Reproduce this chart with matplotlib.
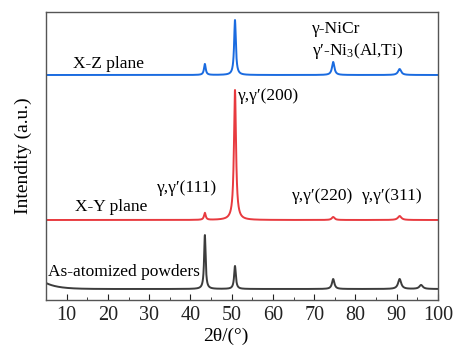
import numpy as np
import matplotlib
matplotlib.use("Agg")
import matplotlib.pyplot as plt

# --- data ---
# peak positions (2theta), heights above baseline, half-widths (deg)
xz_peaks = [43.5, 50.8, 74.6, 90.7]
xz_heights = [11, 55, 13, 6]
xz_widths = [0.25, 0.25, 0.35, 0.45]
xz_base = 225

xy_peaks = [43.5, 50.8, 74.6, 90.7]
xy_heights = [7, 130, 3, 4]
xy_widths = [0.25, 0.3, 0.4, 0.5]
xy_base = 80

pw_peaks = [43.5, 50.8, 74.6, 90.7, 95.9]
pw_heights = [54, 23, 10, 10, 4]
pw_widths = [0.22, 0.25, 0.35, 0.45, 0.5]
pw_base = 11
pw_tail = 6  # low-angle background rise

series_names = ["X-Z plane", "X-Y plane", "As-atomized powders"]
xticks = [10, 20, 30, 40, 50, 60, 70, 80, 90, 100]

x = np.linspace(5, 100, 4000)

def profile(peaks, heights, widths):
    y = np.zeros_like(x)
    for p, h, w in zip(peaks, heights, widths):
        y += h / (1 + ((x - p) / w) ** 2)
    return y

plt.rcParams['font.family'] = ['Liberation Serif', 'DejaVu Serif']
plt.rcParams['mathtext.fontset'] = 'custom'
plt.rcParams['mathtext.rm'] = 'Liberation Serif'
plt.rcParams['mathtext.it'] = 'Liberation Serif:italic'

fig = plt.figure(figsize=(4.56, 3.47), dpi=100)
ax = fig.add_axes([46/456, 1 - 300/347, (438 - 46)/456, (300 - 12)/347])

y_xz = xz_base + profile(xz_peaks, xz_heights, xz_widths)
y_xy = xy_base + profile(xy_peaks, xy_heights, xy_widths)
y_pw = pw_base + profile(pw_peaks, pw_heights, pw_widths) + pw_tail * np.exp(-(x - 5) / 3.0)

ax.plot(x, y_xz, color='#1a6be0', lw=1.4)
ax.plot(x, y_xy, color='#e83a3f', lw=1.4)
ax.plot(x, y_pw, color='#3c3c3c', lw=1.4)

ax.set_xlim(5, 100)
ax.set_ylim(0, 288)
ax.set_yticks([])
ax.set_xticks(xticks)
ax.set_xticks(np.arange(15, 100, 10), minor=True)
ax.tick_params(axis='x', which='major', direction='in', length=4, labelsize=14.5, colors='#222222', pad=4)
ax.tick_params(axis='x', which='minor', direction='in', length=2.5, color='#222222')
for s in ax.spines.values():
    s.set_color('#555555')
    s.set_linewidth(1.0)

ax.set_xlabel('2θ/(°)', fontsize=14)
ax.xaxis.set_label_coords((226 - 46) / 392, -0.095, transform=ax.transAxes)
ax.xaxis.label.set_va('top')
ax.set_ylabel('Intendity (a.u.)', fontsize=14, labelpad=10)

fs = 12.5
ax.text(11.5, 236, series_names[0], fontsize=fs, va='center')
ax.text(12.0, 93, series_names[1], fontsize=fs, va='center')
ax.text(5.5, 28, series_names[2], fontsize=fs, va='center')

ax.text(69.5, 271, 'γ-NiCr', fontsize=fs, va='center')
ax.text(69.5, 249, 'γ′-Ni$_3$(Al,Ti)', fontsize=fs, va='center')
ax.text(51.5, 204, 'γ,γ′(200)', fontsize=fs, va='center')
ax.text(31.9, 112, 'γ,γ′(111)', fontsize=fs, va='center')
ax.text(64.6, 104, 'γ,γ′(220)', fontsize=fs, va='center')
ax.text(81.6, 104, 'γ,γ′(311)', fontsize=fs, va='center')

fig.savefig('out.png', dpi=100)
